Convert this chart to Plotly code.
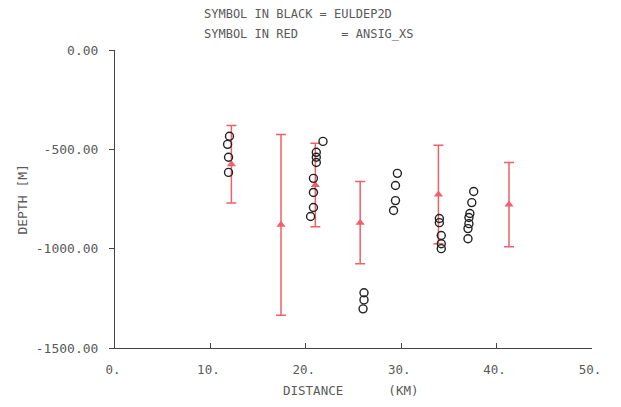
import plotly.graph_objects as go

# EULDEP2D solutions (black circles)
eul_x = [12.0, 11.8, 11.9, 11.9,
         21.8, 21.1, 21.1, 21.1, 20.8, 20.8, 20.8, 20.5,
         26.1, 26.1, 26.0,
         29.6, 29.4, 29.4, 29.2,
         34.0, 34.0, 34.2, 34.2, 34.2,
         37.6, 37.4, 37.2, 37.1, 37.1, 37.0, 37.0]
eul_y = [-434, -475, -540, -616,
         -460, -515, -540, -566, -646, -717, -793, -838,
         -1222, -1258, -1303,
         -621, -682, -758, -808,
         -848, -869, -934, -975, -1000,
         -712, -768, -823, -843, -874, -899, -950]

# ANSIG_XS solutions (red triangles with error bars)
ans_x = [12.2, 17.4, 21.0, 25.7, 33.9, 41.3]
ans_y = [-575, -880, -680, -869, -727, -778]
ans_err = [195, 455, 210, 207, 248, 212]

x_ticks = [0, 10, 20, 30, 40, 50]
x_tick_labels = ["0.", "10.", "20.", "30.", "40.", "50."]
y_ticks = [0, -500, -1000, -1500]
y_tick_labels = ["0.00", "-500.00", "-1000.00", "-1500.00"]

NB = "\u00a0"
title_lines = ["SYMBOL IN BLACK = EULDEP2D",
               "SYMBOL IN RED" + NB * 6 + "= ANSIG_XS"]
x_label = "DISTANCE" + NB * 6 + "(KM)"
y_label = "DEPTH [M]"

red = "#f0606a"
gray = "#5a5a5a"
mono = "DejaVu Sans Mono"

# page has an 8px body margin; keep the figure (and its labels) inside the window
OFF = 8
W, H = 621 - 2 * OFF, 407 - 2 * OFF
L = 115 - OFF
R = W - (600 - OFF)
T = 50 - OFF
B = H - (348 - OFF)

fig = go.Figure()
fig.add_trace(go.Scatter(
    x=ans_x, y=ans_y, mode="markers",
    marker=dict(symbol="triangle-up", size=8, color=red),
    error_y=dict(type="data", array=ans_err, visible=True, color=red,
                 thickness=1.5, width=5),
    showlegend=False))
fig.add_trace(go.Scatter(
    x=eul_x, y=eul_y, mode="markers",
    marker=dict(symbol="circle-open", size=8, color="#222222",
                line=dict(width=1.4, color="#222222")),
    showlegend=False))

fig.update_layout(
    width=W, height=H,
    margin=dict(l=L, r=R, t=T, b=B),
    paper_bgcolor="white", plot_bgcolor="white",
    font=dict(family=mono, size=12, color=gray),
    xaxis=dict(range=[0, 50], tickvals=x_ticks, ticktext=x_tick_labels,
               showgrid=False, zeroline=False, showline=True,
               linecolor="#444444", linewidth=1, ticks="inside",
               ticklen=5, tickcolor="#444444", ticklabelstandoff=10,
               ticklabelshift=-2,
               tickfont=dict(family=mono, size=12.5, color=gray)),
    yaxis=dict(range=[-1500, 0], tickvals=y_ticks, ticktext=y_tick_labels,
               showgrid=False, zeroline=False, showline=True,
               linecolor="#444444", linewidth=1, ticks="outside",
               ticklen=5, tickcolor="#444444", ticklabelstandoff=8,
               tickfont=dict(family=mono, size=13, color=gray)),
)

pw = W - L - R
ph = H - T - B


def page_to_paper(px, py):
    fx = px - OFF
    fy = H - (py - OFF)
    return (fx - L) / pw, (fy - B) / ph


annots = [
    (title_lines[0], 203, 14, "left", 0, 12),
    (title_lines[1], 203, 34, "left", 0, 12),
    (x_label, 354, 390, "center", 0, 12.5),
    (y_label, 20, 200, "center", -90, 13),
]
for text, px, py, xa, ang, sz in annots:
    ax, ay = page_to_paper(px, py)
    fig.add_annotation(text=text, x=ax, y=ay, xref="paper", yref="paper",
                       showarrow=False, xanchor=xa, yanchor="middle",
                       textangle=ang,
                       font=dict(family=mono, size=sz, color=gray))

fig.write_html("out.html", config={"displayModeBar": False})
